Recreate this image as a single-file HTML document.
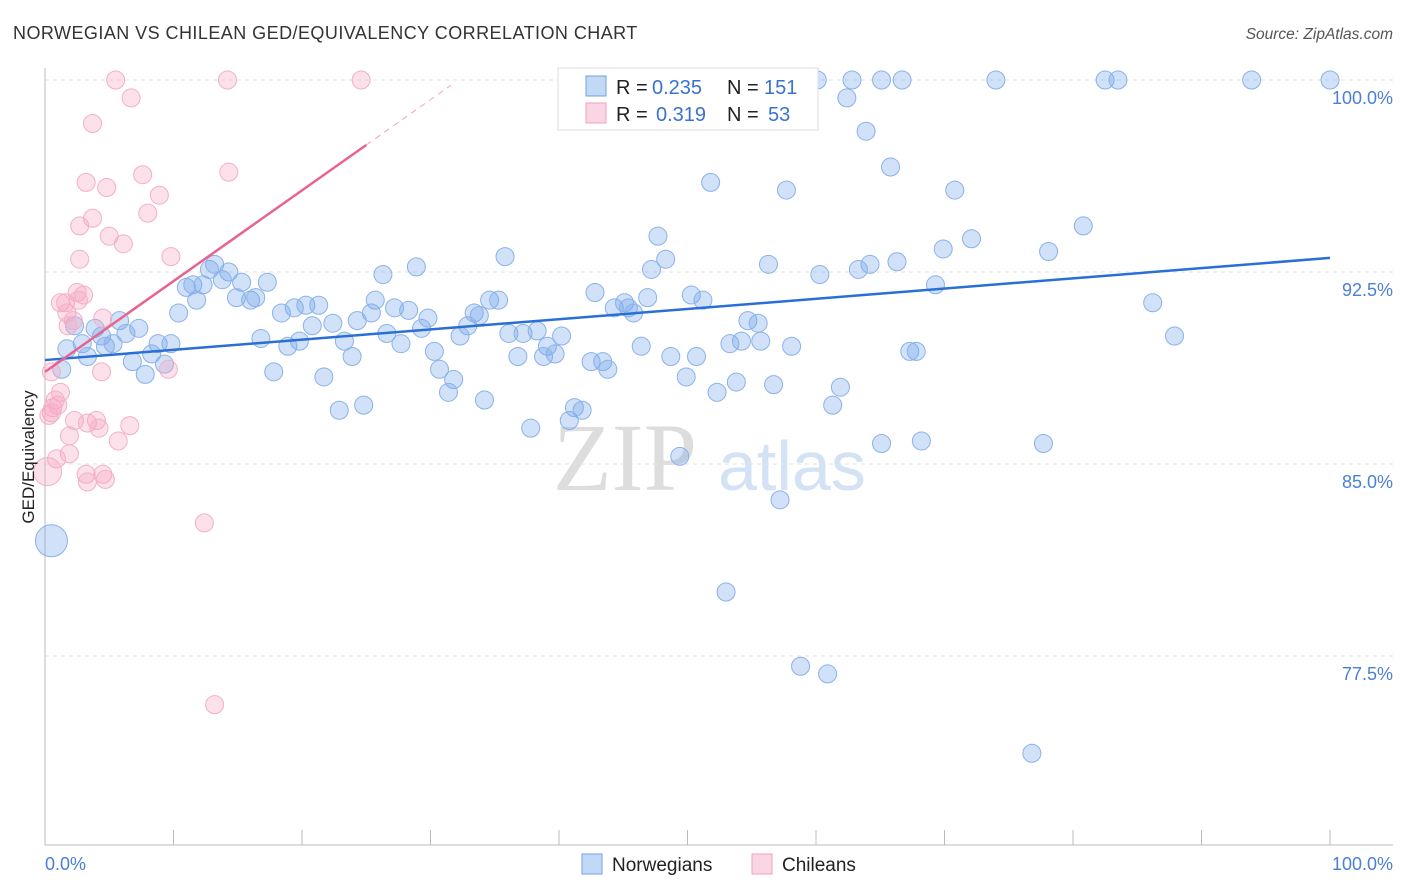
<!DOCTYPE html>
<html><head><meta charset="utf-8"><style>
body{margin:0;background:#fff;font-family:"Liberation Sans",sans-serif}
svg{display:block}
</style></head><body>
<svg id="c" width="1406" height="892">
<text x="13" y="39" font-size="18" letter-spacing="0.45" fill="#333">NORWEGIAN VS CHILEAN GED/EQUIVALENCY CORRELATION CHART</text>
<text x="1393" y="39" font-size="15.5" fill="#555" font-style="italic" text-anchor="end">Source: ZipAtlas.com</text>
<g><text x="553" y="490" font-size="96" fill="#ddd" font-family="Liberation Serif,serif">ZIP</text><text x="718" y="490" font-size="70" fill="#d3e2f5">atlas</text></g>
<g id="grid"></g><g id="axes"></g><g id="pts"></g><g id="lines"></g>
<text transform="translate(34,457) rotate(-90)" text-anchor="middle" font-size="17" fill="#222">GED/Equivalency</text>
<text x="45" y="870" font-size="18" fill="#4a7fd6">0.0%</text>
<text x="1393" y="870" font-size="18" fill="#4a7fd6" text-anchor="end">100.0%</text>
<g>
<rect x="558" y="68" width="260" height="62" fill="#fff" stroke="#ddd"/>
<rect x="586" y="76" width="20" height="20" fill="rgba(120,170,235,0.45)" stroke="#6fa0e0"/>
<rect x="586" y="103" width="20" height="20" fill="rgba(245,165,195,0.45)" stroke="#f0a0bc"/>
<g font-size="20" fill="#222">
<text x="616" y="94">R =</text><text x="652" y="94" fill="#3a72d0">0.235</text><text x="727" y="94">N =</text><text x="764" y="94" fill="#3a72d0">151</text>
<text x="616" y="121">R =</text><text x="656" y="121" fill="#3a72d0">0.319</text><text x="727" y="121">N =</text><text x="768" y="121" fill="#3a72d0">53</text>
</g>
</g>
<g>
<rect x="582" y="854" width="20" height="20" fill="rgba(120,170,235,0.45)" stroke="#6fa0e0"/>
<text x="612" y="871" font-size="19" fill="#222">Norwegians</text>
<rect x="752" y="854" width="20" height="20" fill="rgba(245,165,195,0.45)" stroke="#f0a0bc"/>
<text x="782" y="871" font-size="19" fill="#222">Chileans</text>
</g>
</svg>
<script>
const yTicks=[100,92.5,85,77.5];
const yTickLabels=["100.0%","92.5%","85.0%","77.5%"];
const blueX=[60.1,62.8,65.1,66.7,74.0,82.5,83.5,93.9,100,62.4,63.9,65.8,51.8,57.7,70.8,80.8,47.7,72.1,69.9,78.1,35.8,48.3,66.3,56.3,64.2,47.2,63.3,60.3,28.9,26.3,12.8,13.2,14.3,13.8,17.3,15.3,11.0,11.5,12.3,69.3,11.8,14.9,16.0,16.4,25.7,42.8,46.9,50.3,51.2,34.6,35.3,86.2,19.4,20.3,21.3,18.4,27.2,28.3,25.4,29.8,33.4,33.8,44.3,45.1,45.4,45.8,10.4,5.8,3.9,2.3,7.3,20.8,22.4,24.3,29.3,32.9,54.7,55.5,4.4,6.3,16.8,18.9,19.8,23.3,26.6,27.7,32.3,36.1,37.2,38.3,40.2,39.1,39.7,53.3,54.2,55.7,58.1,87.9,1.7,2.9,4.7,5.3,3.3,8.8,9.8,8.3,23.9,30.3,36.8,38.8,46.4,48.7,50.7,67.3,67.8,6.8,9.3,42.5,43.4,43.8,1.3,7.8,17.8,30.7,49.9,21.7,31.8,53.8,56.7,52.3,61.9,31.4,34.2,24.8,22.9,41.2,41.8,61.3,40.8,37.8,65.1,68.2,77.7,49.4,57.2,0.5,53.0,58.8,60.9,76.8];
const blueY=[100,100,100,100,100,100,100,100,100,99.3,98.0,96.6,96.0,95.7,95.7,94.3,93.9,93.8,93.4,93.3,93.1,93.0,92.9,92.8,92.8,92.6,92.6,92.4,92.7,92.4,92.6,92.8,92.5,92.2,92.1,92.1,91.9,92.0,92.0,92.0,91.4,91.5,91.4,91.5,91.4,91.7,91.5,91.6,91.4,91.4,91.4,91.3,91.1,91.2,91.2,90.9,91.1,91.0,90.9,90.7,90.9,90.8,91.1,91.3,91.1,90.9,90.9,90.6,90.3,90.4,90.3,90.4,90.5,90.6,90.3,90.4,90.6,90.5,90.0,90.1,89.9,89.6,89.8,89.8,90.1,89.7,90.0,90.1,90.1,90.2,90.0,89.6,89.3,89.7,89.8,89.8,89.6,90.0,89.5,89.7,89.6,89.7,89.2,89.7,89.7,89.3,89.2,89.4,89.2,89.2,89.6,89.2,89.2,89.4,89.4,89.0,88.9,89.0,89.0,88.7,88.7,88.5,88.6,88.7,88.4,88.4,88.3,88.2,88.1,87.8,88.0,87.8,87.5,87.3,87.1,87.2,87.1,87.3,86.7,86.4,85.8,85.9,85.8,85.3,83.6,82.0,80.0,77.1,76.8,73.7];
const blueR=blueX.map((v,i)=>i===145?16:9);
const pinkX=[5.5,14.2,24.6,6.7,3.7,14.3,7.6,3.2,4.8,8.9,8.0,3.7,2.7,5.0,6.1,9.8,2.7,2.5,3.0,1.2,1.6,2.6,1.7,2.2,4.5,1.8,9.6,4.4,0.5,1.2,0.8,0.6,1.0,0.5,0.3,2.3,3.3,4.0,4.2,6.6,1.9,5.7,1.9,0.9,0.2,3.2,4.5,4.7,3.3,12.4,13.2];
const pinkY=[100,100,100,99.3,98.3,96.4,96.3,96.0,95.8,95.5,94.8,94.6,94.3,93.9,93.6,93.1,93.0,91.7,91.6,91.3,91.3,91.4,90.9,90.6,90.7,90.4,88.7,88.6,88.6,87.8,87.5,87.2,87.3,87.0,86.9,86.7,86.6,86.7,86.4,86.5,86.1,85.9,85.4,85.2,84.7,84.6,84.6,84.4,84.3,82.7,75.6];
const blueTrend=[89.06,93.05];
const pinkTrend=[88.6,97.46];
const X=v=>45+v*12.85, Y=v=>80+(100-v)*25.6;
const NS="http://www.w3.org/2000/svg";
function mk(tag,attrs,parent){const e=document.createElementNS(NS,tag);for(const k in attrs)e.setAttribute(k,attrs[k]);document.getElementById(parent).appendChild(e);return e;}
yTicks.forEach((t,i)=>{
 const l=mk('line',{x1:45,x2:1393,y1:Y(t),y2:Y(t),stroke:'#e2e2e2','stroke-dasharray':'4 4'},'grid');
 
 
 const tx=mk('text',{x:1393,y:Y(t)+24,'font-size':18,fill:'#4a7fd6','text-anchor':'end'},'grid');
 tx.textContent=yTickLabels[i];
 
 
});
let a=mk('line',{x1:45,x2:45,y1:68,y2:845,stroke:'#bbb'},'axes');


a=mk('line',{x1:45,x2:1393,y1:845,y2:845,stroke:'#bbb'},'axes');


for(let i=0;i<=10;i++){const t=mk('line',{x1:X(i*10),x2:X(i*10),y1:830,y2:845,stroke:'#bbb'},'axes');
 
 }
blueX.forEach((v,i)=>{const c=mk('circle',{cx:X(v),cy:Y(blueY[i]),r:blueR[i],fill:'rgba(120,170,235,0.35)',stroke:'#8ab2ea','stroke-width':1},'pts');
 
 });
pinkX.forEach((v,i)=>{const c=mk('circle',{cx:X(v),cy:Y(pinkY[i]),r:i===44?14:9,fill:'rgba(245,165,195,0.35)',stroke:'#f2b0c8','stroke-width':1},'pts');
 
 });
let tl=mk('line',{x1:X(0),y1:Y(blueTrend[0]),x2:X(100),y2:Y(blueTrend[1]),stroke:'#2a6fd6','stroke-width':2.5},'lines');


const ps=(pinkTrend[1]-pinkTrend[0])/25;
tl=mk('line',{x1:X(0),y1:Y(pinkTrend[0]),x2:X(25),y2:Y(pinkTrend[1]),stroke:'#e8638f','stroke-width':2.5},'lines');


tl=mk('line',{x1:X(25),y1:Y(pinkTrend[1]),x2:X(31.6),y2:Y(pinkTrend[0]+ps*31.6),stroke:'#f0a4c0','stroke-width':1,'stroke-dasharray':'6 5'},'lines');


</script>
</body></html>
